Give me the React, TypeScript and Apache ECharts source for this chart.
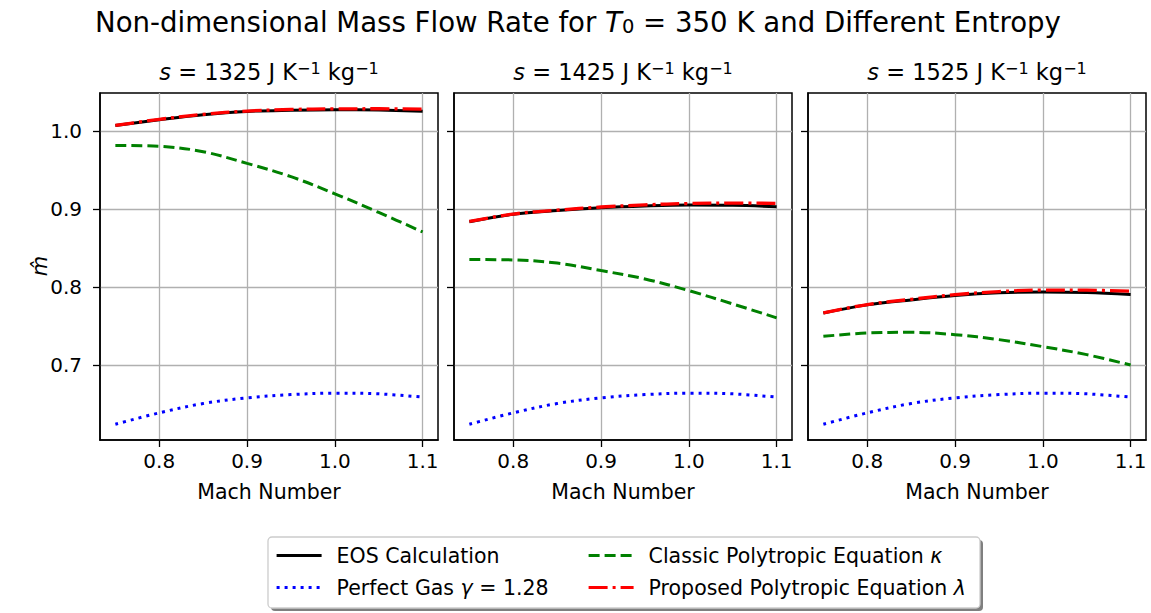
import React, { useEffect, useRef } from "react";
import * as echarts from "echarts";

const machNumbers = [0.75, 0.8, 0.85, 0.9, 0.95, 1.0, 1.05, 1.1];

const perfectGas = [0.6242, 0.6388, 0.6508, 0.658, 0.6622, 0.6641, 0.6632, 0.659];

const eos1325 = [1.0077, 1.015, 1.0215, 1.0257, 1.0272, 1.0279, 1.0274, 1.026];
const classic1325 = [0.982, 0.981, 0.974, 0.959, 0.942, 0.92, 0.896, 0.871];
const proposed1325 = [1.0077, 1.0155, 1.022, 1.0262, 1.0282, 1.029, 1.0291, 1.0285];

const eos1425 = [0.8842, 0.8936, 0.8985, 0.9021, 0.9043, 0.9055, 0.9052, 0.9034];
const classic1425 = [0.8356, 0.8351, 0.831, 0.8214, 0.8107, 0.7957, 0.7786, 0.7607];
const proposed1425 = [0.8845, 0.894, 0.899, 0.903, 0.9058, 0.9075, 0.908, 0.9077];

const eos1525 = [0.767, 0.7774, 0.7838, 0.7893, 0.7928, 0.794, 0.7932, 0.7906];
const classic1525 = [0.737, 0.7413, 0.7422, 0.7392, 0.7328, 0.7238, 0.7135, 0.7002];
const proposed1525 = [0.7672, 0.7778, 0.7845, 0.7905, 0.7945, 0.7964, 0.7962, 0.795];

const panelTitles = [
  "{i|s} = 1325 J K{sup|−1} kg{sup|−1}",
  "{i|s} = 1425 J K{sup|−1} kg{sup|−1}",
  "{i|s} = 1525 J K{sup|−1} kg{sup|−1}",
];
const mainTitle = "Non-dimensional Mass Flow Rate for {i|T}{sub|0} = 350 K and Different Entropy";
const xTicks = [0.8, 0.9, 1.0, 1.1];
const yTicks = [0.7, 0.8, 0.9, 1.0];

const seriesNames = [
  "EOS Calculation",
  "Perfect Gas γ = 1.28",
  "Classic Polytropic Equation κ",
  "Proposed Polytropic Equation λ",
];

const FONT = "DejaVu Sans";

export default function App() {
  const ref = useRef<HTMLDivElement>(null);
  useEffect(() => {
    document.body.style.margin = "0";
    const chart = echarts.init(ref.current!, null, { renderer: "svg" });

    const panels = [
      { eos: eos1325, classic: classic1325, proposed: proposed1325 },
      { eos: eos1425, classic: classic1425, proposed: proposed1425 },
      { eos: eos1525, classic: classic1525, proposed: proposed1525 },
    ];
    const lefts = [100, 454, 808];
    const W = 338;
    const top = 93;
    const H = 347;

    const allVals = [
      ...perfectGas,
      ...eos1325, ...classic1325, ...proposed1325,
      ...eos1425, ...classic1425, ...proposed1425,
      ...eos1525, ...classic1525, ...proposed1525,
    ];
    const yMinD = Math.min(...allVals);
    const yMaxD = Math.max(...allVals);
    const yPad = (yMaxD - yMinD) * 0.05;
    const xPad = (machNumbers[machNumbers.length - 1] - machNumbers[0]) * 0.05;

    const toPts = (arr: number[]) => machNumbers.map((x, j) => [x, arr[j]]);

    const series: any[] = [];
    panels.forEach((p, i) => {
      series.push({
        name: seriesNames[0], type: "line", xAxisIndex: i, yAxisIndex: i,
        data: toPts(p.eos), showSymbol: false, symbol: "none", smooth: 0.35,
        lineStyle: { color: "#000000", width: 3, type: "solid" }, itemStyle: { color: "#000000" }, z: 2,
      });
      series.push({
        name: seriesNames[1], type: "line", xAxisIndex: i, yAxisIndex: i,
        data: toPts(perfectGas), showSymbol: false, symbol: "none", smooth: 0.35,
        lineStyle: { color: "#0000ff", width: 3, type: [3, 5], cap: "butt" }, itemStyle: { color: "#0000ff" }, z: 3,
      });
      series.push({
        name: seriesNames[2], type: "line", xAxisIndex: i, yAxisIndex: i,
        data: toPts(p.classic), showSymbol: false, symbol: "none", smooth: 0.35,
        lineStyle: { color: "#008000", width: 3, type: [11, 5], cap: "butt" }, itemStyle: { color: "#008000" }, z: 4,
      });
      series.push({
        name: seriesNames[3], type: "line", xAxisIndex: i, yAxisIndex: i,
        data: toPts(p.proposed), showSymbol: false, symbol: "none", smooth: 0.35,
        lineStyle: { color: "#ff0000", width: 3.3, type: [19, 5, 3, 5], cap: "butt" }, itemStyle: { color: "#ff0000" }, z: 5,
      });
    });

    const legendFormatter = (name: string) => name.replace(/([γκλ])/, "{i|$1}");
    const legendBase = {
      orient: "vertical",
      top: 545,
      padding: 0,
      itemWidth: 45,
      itemHeight: 14,
      itemGap: 11,
      formatter: legendFormatter,
      itemStyle: { opacity: 0, borderWidth: 0 },
      lineStyle: { width: 3.2 },
      textStyle: {
        fontFamily: FONT, fontSize: 20.5, color: "#000", padding: [0, 0, 0, 10], lineHeight: 20,
        rich: { i: { fontFamily: FONT, fontSize: 20.5, fontStyle: "italic", color: "#000" } },
      },
      selectedMode: false,
    };

    const option: any = {
      animation: false,
      backgroundColor: "#ffffff",
      textStyle: { fontFamily: FONT },
      grid: lefts.map((l) => ({
        left: l, top, width: W, height: H, show: true, borderColor: "#000000", borderWidth: 1.5,
        backgroundColor: "transparent", containLabel: false, outerBoundsMode: "none",
      })),
      xAxis: lefts.map((_, i) => ({
        type: "value", gridIndex: i,
        min: machNumbers[0] - xPad, max: machNumbers[machNumbers.length - 1] + xPad,
        name: "Mach Number", nameLocation: "middle", nameGap: 41,
        nameTextStyle: { fontFamily: FONT, fontSize: 20.5, color: "#000" },
        axisLine: { show: true, onZero: false, lineStyle: { color: "#000", width: 1.5 } },
        axisTick: { show: true, length: 7, inside: false, customValues: xTicks, lineStyle: { color: "#000", width: 1.3 } },
        axisLabel: {
          show: true, margin: 11, customValues: xTicks, fontFamily: FONT, fontSize: 20, color: "#000",
          formatter: (v: number) => v.toFixed(1),
        },
        splitLine: { show: true, lineStyle: { color: "#b0b0b0", width: 1.3 } },
      })),
      yAxis: lefts.map((_, i) => ({
        type: "value", gridIndex: i,
        min: yMinD - yPad, max: yMaxD + yPad,
        axisLine: { show: true, onZero: false, lineStyle: { color: "#000", width: 1.5 } },
        axisTick: { show: true, length: 7, inside: false, customValues: yTicks, lineStyle: { color: "#000", width: 1.3 } },
        axisLabel: {
          show: i === 0, margin: 18, customValues: yTicks, fontFamily: FONT, fontSize: 20, color: "#000",
          formatter: (v: number) => v.toFixed(1),
        },
        splitLine: { show: true, lineStyle: { color: "#b0b0b0", width: 1.3 } },
      })),
      legend: [
        { ...legendBase, left: 275, data: [seriesNames[0], seriesNames[1]] },
        { ...legendBase, left: 587, data: [seriesNames[2], seriesNames[3]] },
      ],
      series,
      graphic: [
        {
          type: "text", x: 578, y: 22, z: 10,
          style: {
            text: mainTitle,
            fontFamily: FONT, fontSize: 27.6, fill: "#000", align: "center", verticalAlign: "middle",
            rich: {
              i: { fontFamily: FONT, fontSize: 27.6, fontStyle: "italic", fill: "#000" },
              sub: { fontFamily: FONT, fontSize: 19.5, fill: "#000", verticalAlign: "bottom" },
            },
          },
        },
        ...lefts.map((l, i) => ({
          type: "text", x: l + W / 2, y: 72, z: 10,
          style: {
            text: panelTitles[i], fontFamily: FONT, fontSize: 22.5, fill: "#000",
            align: "center", verticalAlign: "middle",
            rich: {
              i: { fontFamily: FONT, fontSize: 22.5, fontStyle: "italic", fill: "#000" },
              sup: { fontFamily: FONT, fontSize: 16, fill: "#000", verticalAlign: "top" },
            },
          },
        })),
        {
          type: "text", x: 40, y: 266, rotation: Math.PI / 2, z: 10,
          style: {
            text: "m̂", fontFamily: FONT, fontSize: 21, fontStyle: "italic", fill: "#000",
            align: "center", verticalAlign: "middle",
          },
        },
        {
          type: "rect", z: -1, silent: true,
          shape: { x: 271, y: 540, width: 712, height: 71, r: 4 },
          style: { fill: "#7f7f7f" },
        },
        {
          type: "rect", z: 0, silent: true,
          shape: { x: 268, y: 537, width: 712, height: 71, r: 4 },
          style: { fill: "#ffffff", stroke: "#cccccc", lineWidth: 1.3 },
        },
      ],
    };
    chart.setOption(option);
    return () => chart.dispose();
  }, []);
  return <div ref={ref} style={{ width: 1151, height: 613 }} />;
}
